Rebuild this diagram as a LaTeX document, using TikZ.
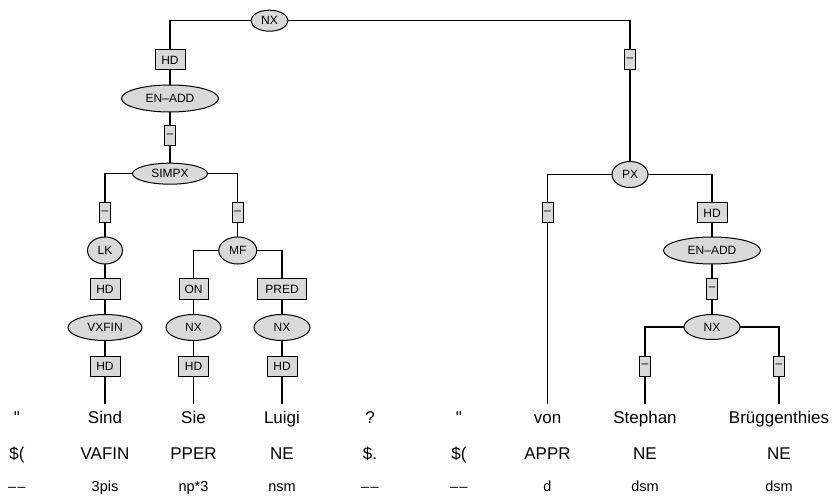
\documentclass[tikz,border=0pt]{standalone}
\usepackage{fontspec}
\setmainfont{Liberation Sans}[Ligatures=TeXOff]
\usetikzlibrary{shapes.geometric}
\newcommand{\ddash}{–\kern1.5pt–}
\begin{document}
\begin{tikzpicture}[x=1pt,y=-1pt,
  cat/.style={ellipse, draw, fill=black!15, line width=1pt, inner sep=0pt, font=\fontsize{12}{13}\selectfont},
  fn/.style={rectangle, draw, fill=black!15, line width=1pt, inner sep=0pt, minimum height=20pt, font=\fontsize{12}{13}\selectfont},
  word/.style={anchor=base, inner sep=0pt, font=\fontsize{17}{20}\selectfont},
  morph/.style={anchor=base, inner sep=0pt, font=\fontsize{14.5}{16}\selectfont},
  link/.style={line width=1.1pt, line cap=rect}]
\useasboundingbox (0,0) rectangle (833,497);
% nodes
\node[cat, minimum width=37pt, minimum height=21pt] (nx0) at (269.5,20.7) {NX};
\node[fn, minimum width=30pt] (hd0) at (170,60) {HD};
\node[cat, minimum width=97pt, minimum height=27pt] (en1) at (170,98.5) {EN–ADD};
\node[fn, minimum width=11pt] (d1) at (170,136) {–};
\node[cat, minimum width=75pt, minimum height=21pt] (simpx) at (170,173.7) {SIMPX};
\node[fn, minimum width=11pt] (d2) at (105,213) {–};
\node[fn, minimum width=11pt] (d3) at (237.75,213) {–};
\node[cat, minimum width=35pt, minimum height=27pt] (lk) at (105,250.5) {LK};
\node[cat, minimum width=38pt, minimum height=27pt] (mf) at (237.75,250.5) {MF};
\node[fn, minimum width=30pt] (hd1) at (105,289) {HD};
\node[fn, minimum width=29pt] (on) at (193.5,289) {ON};
\node[fn, minimum width=49pt] (pred) at (282,289) {PRED};
\node[cat, minimum width=74pt, minimum height=26pt] (vxfin) at (105,327.5) {VXFIN};
\node[cat, minimum width=55pt, minimum height=26pt] (nx1) at (193.5,327.5) {NX};
\node[cat, minimum width=56pt, minimum height=26pt] (nx2) at (282,327.5) {NX};
\node[fn, minimum width=30pt] (hd2) at (105,366) {HD};
\node[fn, minimum width=30pt] (hd3) at (193.5,366) {HD};
\node[fn, minimum width=30pt] (hd4) at (282,366) {HD};
\node[fn, minimum width=11pt] (d4) at (630,60) {–};
\node[cat, minimum width=36pt, minimum height=26pt] (px) at (630,174.5) {PX};
\node[fn, minimum width=11pt] (d5) at (547.5,213) {–};
\node[fn, minimum width=30pt] (hd5) at (712,213) {HD};
\node[cat, minimum width=97pt, minimum height=27pt] (en2) at (712,250.5) {EN–ADD};
\node[fn, minimum width=11pt] (d6) at (712,289) {–};
\node[cat, minimum width=56pt, minimum height=25pt] (nx3) at (712,327) {NX};
\node[fn, minimum width=11pt] (d7) at (645,366) {–};
\node[fn, minimum width=11pt] (d8) at (779,366) {–};
% word tops
\coordinate (wt2) at (105,403);
\coordinate (wt3) at (193.5,403);
\coordinate (wt4) at (282,403);
\coordinate (wt7) at (547.5,403);
\coordinate (wt8) at (645,403);
\coordinate (wt9) at (779,403);
% edges
\draw[link] (nx0.west) -| (hd0.north);
\draw[link] (nx0.east) -| (d4.north);
\draw[link] (hd0) -- (en1);
\draw[link] (en1) -- (d1);
\draw[link] (d1) -- (simpx);
\draw[link] (simpx.west) -| (d2.north);
\draw[link] (simpx.east) -| (d3.north);
\draw[link] (d2) -- (lk);
\draw[link] (lk) -- (hd1);
\draw[link] (hd1) -- (vxfin);
\draw[link] (vxfin) -- (hd2);
\draw[link] (hd2.south) -- (wt2);
\draw[link] (d3) -- (mf);
\draw[link] (mf.west) -| (on.north);
\draw[link] (mf.east) -| (pred.north);
\draw[link] (on) -- (nx1);
\draw[link] (nx1) -- (hd3);
\draw[link] (hd3.south) -- (wt3);
\draw[link] (pred) -- (nx2);
\draw[link] (nx2) -- (hd4);
\draw[link] (hd4.south) -- (wt4);
\draw[link] (d4) -- (px);
\draw[link] (px.west) -| (d5.north);
\draw[link] (px.east) -| (hd5.north);
\draw[link] (d5.south) -- (wt7);
\draw[link] (hd5) -- (en2);
\draw[link] (en2) -- (d6);
\draw[link] (d6) -- (nx3);
\draw[link] (nx3.west) -| (d7.north);
\draw[link] (nx3.east) -| (d8.north);
\draw[link] (d7.south) -- (wt8);
\draw[link] (d8.south) -- (wt9);
% words
\node[word] (w1) at (17,423.3) {"};
\node[word] (w2) at (105,423.3) {Sind};
\node[word] (w3) at (193.5,423.3) {Sie};
\node[word] (w4) at (282,423.3) {Luigi};
\node[word] (w5) at (370,423.3) {?};
\node[word] (w6) at (459,423.3) {"};
\node[word] (w7) at (547.5,423.3) {von};
\node[word] (w8) at (645,423.3) {Stephan};
\node[word] (w9) at (779,423.3) {Brüggenthies};
% tags
\node[word] (t1) at (17,459) {\$(};
\node[word] (t2) at (105,459) {VAFIN};
\node[word] (t3) at (193.5,459) {PPER};
\node[word] (t4) at (282,459) {NE};
\node[word] (t5) at (370,459) {\$.};
\node[word] (t6) at (459,459) {\$(};
\node[word] (t7) at (547.5,459) {APPR};
\node[word] (t8) at (645,459) {NE};
\node[word] (t9) at (779,459) {NE};
% morphology
\node[morph] (m1) at (17,491) {\ddash};
\node[morph] (m2) at (105,491) {3pis};
\node[morph] (m3) at (193.5,491) {np*3};
\node[morph] (m4) at (282,491) {nsm};
\node[morph] (m5) at (370,491) {\ddash};
\node[morph] (m6) at (459,491) {\ddash};
\node[morph] (m7) at (547.5,491) {d};
\node[morph] (m8) at (645,491) {dsm};
\node[morph] (m9) at (779,491) {dsm};
\end{tikzpicture}
\end{document}
